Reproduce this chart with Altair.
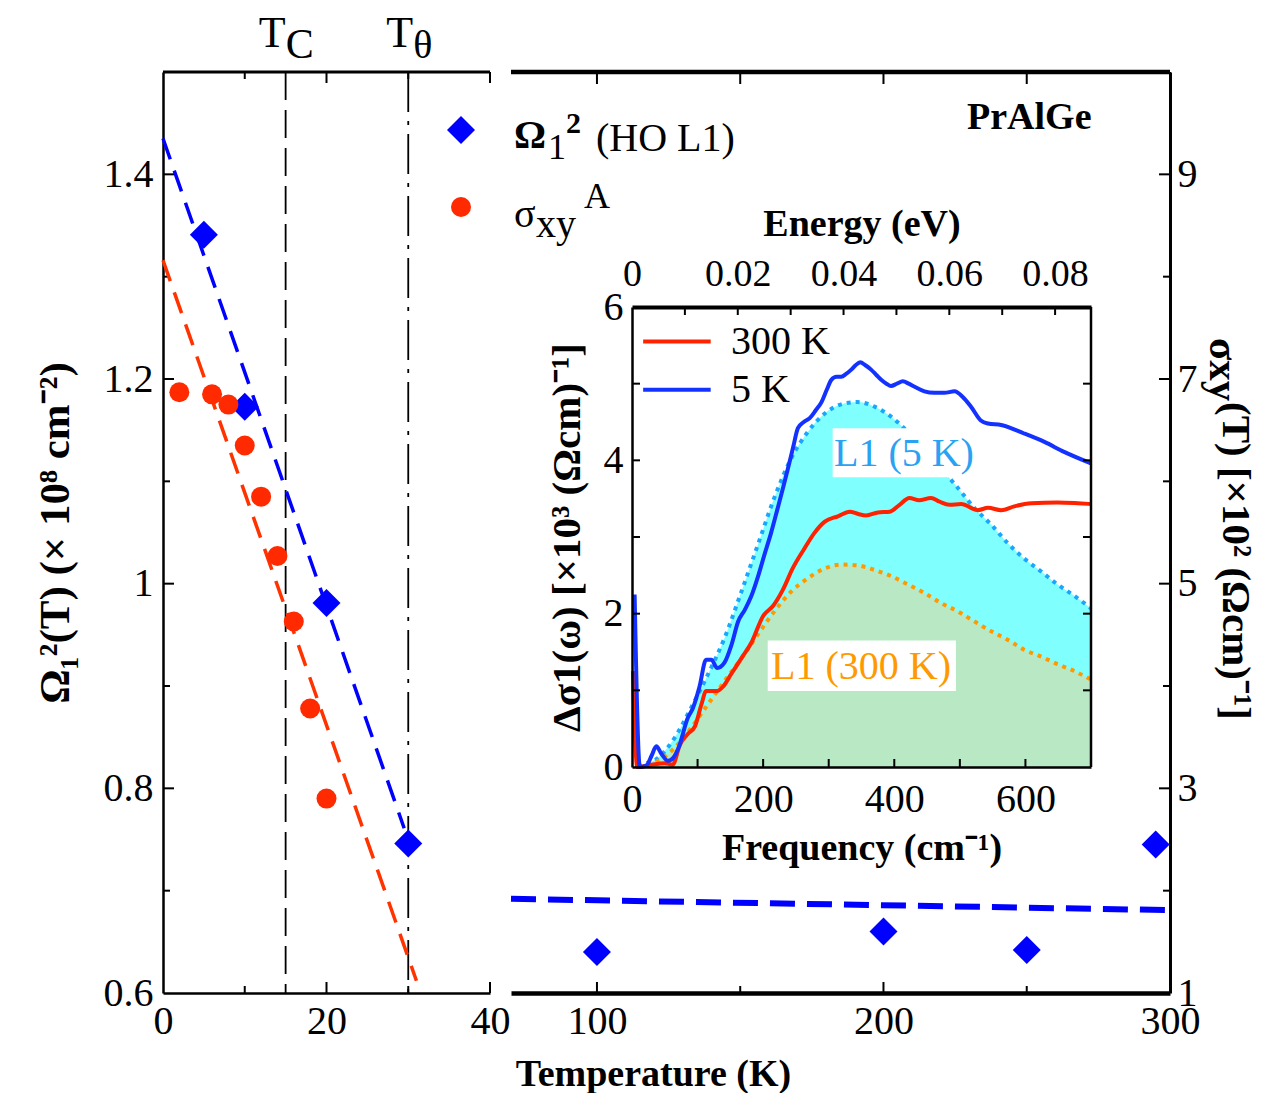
import altair as alt
import pandas as pd

FONT = "Liberation Serif"

# ------------------------------------------------------------------ data
T_C = 15
T_THETA = 30

omega_T_low = [5, 10, 20, 30]
omega_low = [1.341, 1.173, 0.981, 0.746]
omega_T_high = [100, 200, 250, 295]
omega_high = [0.640, 0.660, 0.642, 0.745]

sigma_T = [2, 6, 8, 10, 12, 14, 16, 18, 20]
sigma_xy = [6.87, 6.85, 6.75, 6.35, 5.85, 5.27, 4.63, 3.78, 2.90]

fit_omega_low_T = [0, 29.5]
fit_omega_low = [1.435, 0.761]
fit_sigma_T = [0, 31]
fit_sigma = [8.16, 1.12]
fit_omega_high_T = [70, 300]
fit_omega_high = [0.692, 0.681]

# inset: delta sigma_1 (x10^3 (Ohm cm)^-1) vs frequency (cm^-1)
freq_5K = [4, 12, 22, 30, 37, 45, 55, 63, 71, 85, 93, 103, 113, 121, 130, 141, 152,
           162, 172, 182, 192, 202, 212, 222, 230, 238, 246, 253, 262, 271, 280, 289,
           297, 304, 312, 319, 327, 334, 341, 348, 356, 365, 373, 380, 388, 395, 404,
           413, 422, 431, 446, 461, 476, 492, 504, 517, 532, 543, 563, 598, 629, 659, 700]
dsig_5K = [2.25, 0.0, 0.02, 0.15, 0.27, 0.17, 0.08, 0.12, 0.25, 0.64, 0.77, 1.05, 1.40,
           1.40, 1.29, 1.36, 1.60, 1.90, 2.05, 2.23, 2.48, 2.77, 3.05, 3.37, 3.63, 3.90,
           4.18, 4.42, 4.50, 4.55, 4.65, 4.76, 4.92, 5.05, 5.09, 5.09, 5.13, 5.18, 5.24,
           5.28, 5.24, 5.18, 5.11, 5.05, 5.00, 4.97, 5.00, 5.03, 5.00, 4.96, 4.90, 4.88,
           4.88, 4.90, 4.83, 4.70, 4.52, 4.48, 4.46, 4.35, 4.24, 4.11, 3.96]

freq_300K = [1.5, 8, 30, 50, 62, 73, 85, 96, 106, 113, 121, 129, 139, 151, 167, 182,
             200, 215, 230, 245, 263, 278, 294, 314, 332, 345, 357, 375, 393, 408, 423,
             438, 456, 469, 484, 502, 527, 543, 563, 583, 609, 649, 680, 700]
dsig_300K = [1.25, 0.0, 0.03, 0.05, 0.03, 0.29, 0.43, 0.53, 0.82, 0.99, 0.99, 0.99, 1.05,
             1.21, 1.42, 1.62, 1.97, 2.10, 2.31, 2.59, 2.85, 3.05, 3.20, 3.27, 3.33, 3.30,
             3.28, 3.32, 3.33, 3.42, 3.51, 3.48, 3.51, 3.46, 3.42, 3.43, 3.35, 3.38, 3.35,
             3.40, 3.44, 3.45, 3.44, 3.43]

freq_L1 = [10, 14, 40, 65, 90, 116, 141, 167, 192, 217, 243, 268, 294, 319, 344, 370,
           395, 421, 446, 471, 497, 522, 548, 573, 598, 624, 649, 675, 700]
dsig_L1_5K = [0.0, 0.02, 0.12, 0.38, 0.77, 1.21, 1.68, 2.29, 2.90, 3.51, 4.03, 4.37, 4.61,
              4.73, 4.76, 4.70, 4.57, 4.37, 4.16, 3.90, 3.64, 3.38, 3.16, 2.92, 2.72, 2.55,
              2.38, 2.23, 2.07]
dsig_L1_300K = [0.0, 0.01, 0.08, 0.25, 0.51, 0.82, 1.12, 1.42, 1.73, 2.03, 2.29, 2.46, 2.59,
                2.64, 2.63, 2.57, 2.49, 2.38, 2.27, 2.14, 2.03, 1.90, 1.77, 1.66, 1.53, 1.44,
                1.34, 1.25, 1.14]

CM_PER_EV = 8065.54

# tick values
left_x_major, left_x_minor = [20, 40], [10, 30]
left_y_major, left_y_minor = [0.8, 1.0, 1.2, 1.4], [0.7, 0.9, 1.1, 1.3]
right_x_major, right_x_minor = [100, 200, 300], [150, 250]
sig_major, sig_minor = [1, 3, 5, 7, 9], [2, 4, 6, 8]
inset_f_ticks = [100, 200, 300, 400, 500, 600]
inset_d_ticks = [1, 2, 3, 4, 5]
inset_e_ticks = [0.01, 0.02, 0.03, 0.04, 0.05, 0.06, 0.07, 0.08]

# ------------------------------------------------------------------ style
BLUE = "#0000ff"
RED = "#ff2a00"
LINE_BLUE = "#1432ff"
LINE_RED = "#ff2200"
DOT_BLUE = "#1aa6ff"
DOT_ORANGE = "#ff9900"
CYAN = "#80ffff"
GREEN = "#b8e8c4"

LW, RW, H = 327, 659, 921
IX0, IX1, IY0, IY1 = 121, 580, 235, 695

X_L = alt.Scale(domain=[0, 40], nice=False, zero=False)
X_R = alt.Scale(domain=[70, 300], nice=False, zero=False)
Y_OM = alt.Scale(domain=[0.6, 1.5], nice=False, zero=False)
Y_SIG = alt.Scale(domain=[1, 10], nice=False, zero=False)
X_F = alt.Scale(domain=[0, 700], range=[IX0, IX1], nice=False, zero=False)
Y_D = alt.Scale(domain=[0, 6], range=[IY1, IY0], nice=False, zero=False)
X_E = alt.Scale(domain=[0, 700 / CM_PER_EV], range=[IX0, IX1], nice=False, zero=False)

AX_L_X = alt.Axis(orient="bottom", values=[0, 20, 40], format="d", ticks=False,
                  domainWidth=2.5, labelFontSize=40, labelPadding=8, labelFlush=False,
                  title="", grid=False)
AX_L_Y = alt.Axis(orient="left", values=[0.6, 0.8, 1.0, 1.2, 1.4], format="~g", ticks=False,
                  domainWidth=2.5, labelFontSize=40, labelPadding=10,
                  title="Ω₁²(T) (× 10⁸ cm⁻²)", titleFontSize=43, titleFontWeight="bold",
                  titlePadding=26, grid=False)
AX_R_X = alt.Axis(orient="bottom", values=[100, 200, 300], format="d", ticks=False,
                  domainWidth=4.5, labelFontSize=40, labelPadding=8, labelFlush=False,
                  title="Temperature (K)", titleX=142, titleAlign="center",
                  titleFontSize=38, titleFontWeight="bold", titlePadding=14, grid=False)
AX_SIG = alt.Axis(orient="right", values=sig_major, format="d", ticks=False, domainWidth=3,
                  labelFontSize=40, labelPadding=7, title="", grid=False)
AX_F = alt.Axis(orient="bottom", offset=-(H - IY1), values=[0, 200, 400, 600], format="d",
                ticks=False, domainWidth=2.5, labelFontSize=40, labelPadding=12,
                labelFlush=False, title="Frequency (cm⁻¹)", titleFontSize=38,
                titleFontWeight="bold", titlePadding=10, zindex=1, grid=False)
AX_D = alt.Axis(orient="left", offset=-IX0, values=[0, 2, 4, 6], format="d", ticks=False,
                domainWidth=2.5, labelFontSize=40, labelPadding=9,
                title="Δσ1(ω) [×10³ (Ωcm)⁻¹]", titleFontSize=41, titleFontWeight="bold",
                titlePadding=15, zindex=1, grid=False)
AX_E = alt.Axis(orient="top", offset=-IY0, values=[0, 0.02, 0.04, 0.06, 0.08], format="~g",
                ticks=False, domainWidth=4, labelFontSize=38, labelPadding=14,
                labelFlush=False, title="Energy (eV)", titleFontSize=38,
                titleFontWeight="bold", titlePadding=12, zindex=1, grid=False)


def xticks(vals, scale, axis, y0, y1, width=2.0):
    return alt.Chart(pd.DataFrame({"tv": vals})).mark_rule(
        color="black", strokeWidth=width).encode(
        x=alt.X("tv:Q", scale=scale, axis=axis), y=alt.value(y0), y2=alt.value(y1))


def yticks(vals, scale, axis, x0, x1, width=2.0):
    return alt.Chart(pd.DataFrame({"tv": vals})).mark_rule(
        color="black", strokeWidth=width).encode(
        y=alt.Y("tv:Q", scale=scale, axis=axis), x=alt.value(x0), x2=alt.value(x1))


def ptext(s, x, y, size=40, weight="normal", color="black", angle=0, align="left",
          baseline="alphabetic"):
    return alt.Chart(pd.DataFrame({"s": [s]})).mark_text(
        font=FONT, fontSize=size, fontWeight=weight, color=color, angle=angle,
        align=align, baseline=baseline).encode(text="s:N", x=alt.value(x), y=alt.value(y))


def frame(x0, x1, y0, y1, width):
    return alt.Chart(pd.DataFrame({"k": [0]})).mark_rule(
        color="black", strokeWidth=width).encode(
        x=alt.value(x0), x2=alt.value(x1), y=alt.value(y0), y2=alt.value(y1))


# ------------------------------------------------------------------ left panel (0-40 K)
def data_text(s, xval, y, size, align, dx=0, weight="normal"):
    return alt.Chart(pd.DataFrame({"s": [s], "T": [xval]})).mark_text(
        font=FONT, fontSize=size, fontWeight=weight, align=align, dx=dx,
        baseline="alphabetic", color="black").encode(
        text="s:N", x=alt.X("T:Q", scale=X_L, axis=AX_L_X), y=alt.value(y))


tc_rule = alt.Chart(pd.DataFrame({"T": [T_C]})).mark_rule(
    color="black", strokeWidth=1.8, strokeDash=[28, 10]).encode(
    x=alt.X("T:Q", scale=X_L, axis=AX_L_X))
tt_rule = alt.Chart(pd.DataFrame({"T": [T_THETA]})).mark_rule(
    color="black", strokeWidth=1.8, strokeDash=[40, 9, 4, 9]).encode(
    x=alt.X("T:Q", scale=X_L, axis=AX_L_X))

fit_blue_low = alt.Chart(pd.DataFrame({"T": fit_omega_low_T, "Om": fit_omega_low})).mark_line(
    color=BLUE, strokeWidth=3.5, strokeDash=[22, 12]).encode(
    x=alt.X("T:Q", scale=X_L, axis=AX_L_X), y=alt.Y("Om:Q", scale=Y_OM, axis=AX_L_Y))
dia_low = alt.Chart(pd.DataFrame({"T": omega_T_low, "Om": omega_low})).mark_point(
    shape="diamond", filled=True, size=784, color=BLUE, opacity=1).encode(
    x=alt.X("T:Q", scale=X_L, axis=AX_L_X), y=alt.Y("Om:Q", scale=Y_OM, axis=AX_L_Y))

left_om = alt.layer(
    tc_rule, tt_rule, fit_blue_low, dia_low,
    frame(0, LW, 0, 0, 3),
    xticks(left_x_major, X_L, AX_L_X, H, H - 11), xticks(left_x_minor, X_L, AX_L_X, H, H - 7),
    xticks(left_x_major, X_L, AX_L_X, 0, 11), xticks(left_x_minor, X_L, AX_L_X, 0, 7),
    yticks(left_y_major, Y_OM, AX_L_Y, 0, 11), yticks(left_y_minor, Y_OM, AX_L_Y, 0, 7),
    data_text("T", T_C, -25, 44, "right"),
    data_text("C", T_C, -14, 42, "left"),
    data_text("T", T_THETA, -25, 44, "right", dx=5),
    data_text("θ", T_THETA, -14, 40, "left", dx=5),
)

fit_red = alt.Chart(pd.DataFrame({"T": fit_sigma_T, "S": fit_sigma})).mark_line(
    color="#ff3300", strokeWidth=3.5, strokeDash=[22, 12]).encode(
    x=alt.X("T:Q", scale=X_L, axis=AX_L_X), y=alt.Y("S:Q", scale=Y_SIG, axis=None))
red_pts = alt.Chart(pd.DataFrame({"T": sigma_T, "S": sigma_xy})).mark_circle(
    size=400, color=RED, opacity=1).encode(
    x=alt.X("T:Q", scale=X_L, axis=AX_L_X), y=alt.Y("S:Q", scale=Y_SIG, axis=None))
left_sig = alt.layer(fit_red, red_pts)

left = alt.layer(left_om, left_sig).resolve_scale(y="independent").properties(
    width=LW, height=H)

# ------------------------------------------------------------------ right panel (70-300 K)
fit_blue_high = alt.Chart(pd.DataFrame({"T": fit_omega_high_T, "Om": fit_omega_high})).mark_line(
    color=BLUE, strokeWidth=6, strokeDash=[25, 12]).encode(
    x=alt.X("T:Q", scale=X_R, axis=AX_R_X), y=alt.Y("Om:Q", scale=Y_OM, axis=None))
dia_high = alt.Chart(pd.DataFrame({"T": omega_T_high, "Om": omega_high})).mark_point(
    shape="diamond", filled=True, size=784, color=BLUE, opacity=1).encode(
    x=alt.X("T:Q", scale=X_R, axis=AX_R_X), y=alt.Y("Om:Q", scale=Y_OM, axis=None))

legend_dia = alt.Chart(pd.DataFrame({"k": [0]})).mark_point(
    shape="diamond", filled=True, size=784, color=BLUE, opacity=1).encode(
    x=alt.value(-50), y=alt.value(58))
legend_cir = alt.Chart(pd.DataFrame({"k": [0]})).mark_circle(
    size=400, color=RED, opacity=1).encode(x=alt.value(-50), y=alt.value(135))

right_main = alt.layer(
    fit_blue_high, dia_high,
    frame(0, RW, 0, 0, 4.5),
    xticks(right_x_major, X_R, AX_R_X, H, H - 11), xticks(right_x_minor, X_R, AX_R_X, H, H - 7),
    xticks(right_x_major, X_R, AX_R_X, 0, 12), xticks(right_x_minor, X_R, AX_R_X, 0, 12),
    legend_dia, legend_cir,
    ptext("Ω", 3, 76, 40, "bold"),
    ptext("1", 37, 87, 36),
    ptext("2", 55, 61, 30, "bold"),
    ptext("(HO L1)", 85, 79, 40),
    ptext("σ", 3, 155, 40),
    ptext("xy", 25, 165, 40),
    ptext("A", 73, 136, 36),
    ptext("PrAlGe", 456, 57, 38, "bold"),
    ptext("σxy", 699, 266, 41, "bold", angle=90),
    ptext("(T) [×10² (Ωcm)⁻¹]", 712, 330, 41, "bold", angle=90),
)

right_sig = alt.layer(
    yticks(sig_major, Y_SIG, AX_SIG, RW, RW - 11),
    yticks(sig_minor, Y_SIG, AX_SIG, RW, RW - 7),
)

df_5K = pd.DataFrame({"f": freq_5K, "d": dsig_5K})
df_300K = pd.DataFrame({"f": freq_300K, "d": dsig_300K})
df_L1_5K = pd.DataFrame({"f": freq_L1, "d": dsig_L1_5K})
df_L1_300K = pd.DataFrame({"f": freq_L1, "d": dsig_L1_300K})

FX = dict(scale=X_F, axis=AX_F)
DY = dict(scale=Y_D, axis=AX_D)

area_5K = alt.Chart(df_L1_5K).mark_area(color=CYAN, opacity=1, interpolate="monotone").encode(
    x=alt.X("f:Q", **FX), y=alt.Y("d:Q", **DY))
area_300K = alt.Chart(df_L1_300K).mark_area(color=GREEN, opacity=1,
                                            interpolate="monotone").encode(
    x=alt.X("f:Q", **FX), y=alt.Y("d:Q", **DY))
dot_5K = alt.Chart(df_L1_5K).mark_line(color=DOT_BLUE, strokeWidth=4, strokeDash=[4, 5],
                                       interpolate="monotone").encode(
    x=alt.X("f:Q", **FX), y=alt.Y("d:Q", **DY))
dot_300K = alt.Chart(df_L1_300K).mark_line(color=DOT_ORANGE, strokeWidth=4, strokeDash=[4, 5],
                                           interpolate="monotone").encode(
    x=alt.X("f:Q", **FX), y=alt.Y("d:Q", **DY))


def box(f0, f1, d0, d1):
    return alt.Chart(pd.DataFrame({"f": [f0], "f1": [f1], "d": [d0], "d1": [d1]})).mark_rect(
        color="white", opacity=1).encode(
        x=alt.X("f:Q", **FX), x2="f1:Q", y=alt.Y("d:Q", **DY), y2="d1:Q")


def itext(s, f, d, color, size=40):
    return alt.Chart(pd.DataFrame({"s": [s], "f": [f], "d": [d]})).mark_text(
        font=FONT, fontSize=size, color=color, align="left", baseline="middle").encode(
        text="s:N", x=alt.X("f:Q", **FX), y=alt.Y("d:Q", **DY))


line_300K = alt.Chart(df_300K).mark_line(color=LINE_RED, strokeWidth=4,
                                         interpolate="monotone").encode(
    x=alt.X("f:Q", **FX), y=alt.Y("d:Q", **DY))
line_5K = alt.Chart(df_5K).mark_line(color=LINE_BLUE, strokeWidth=4,
                                     interpolate="monotone").encode(
    x=alt.X("f:Q", **FX), y=alt.Y("d:Q", **DY))

leg_red = alt.Chart(pd.DataFrame({"f": [17, 120], "d": [5.55, 5.55]})).mark_line(
    color=LINE_RED, strokeWidth=4).encode(x=alt.X("f:Q", **FX), y=alt.Y("d:Q", **DY))
leg_blue = alt.Chart(pd.DataFrame({"f": [17, 120], "d": [4.92, 4.92]})).mark_line(
    color=LINE_BLUE, strokeWidth=4).encode(x=alt.X("f:Q", **FX), y=alt.Y("d:Q", **DY))

inset = alt.layer(
    area_5K, area_300K, dot_5K, dot_300K,
    box(306, 528, 3.78, 4.42), itext("L1 (5 K)", 308, 4.08, "#2aa2f4"),
    box(207, 494, 0.99, 1.65), itext("L1 (300 K)", 212, 1.30, DOT_ORANGE),
    line_300K, line_5K,
    leg_red, leg_blue,
    itext("300 K", 151, 5.55, "black"), itext("5 K", 151, 4.92, "black"),
    frame(IX1, IX1, IY0, IY1, 2.5),
    xticks(inset_f_ticks, X_F, AX_F, IY1, IY1 - 8),
    yticks(inset_d_ticks, Y_D, AX_D, IX0, IX0 + 8),
    yticks(inset_d_ticks, Y_D, AX_D, IX1, IX1 - 8),
)

inset_energy = xticks(inset_e_ticks, X_E, AX_E, IY0, IY0 + 8)

right = alt.layer(right_main, right_sig, inset, inset_energy).resolve_scale(
    x="independent", y="independent").properties(width=RW, height=H)

chart = alt.hconcat(left, right, spacing=21, bounds="flush").properties(
    padding={"left": 26, "top": 4, "right": 5, "bottom": 0}
).configure_view(stroke=None).configure_axis(
    labelFont=FONT, titleFont=FONT, labelColor="black", titleColor="black",
    domainColor="black", grid=False
).configure_text(font=FONT)

chart.save("out.html", embed_options={"renderer": "svg", "actions": False})
